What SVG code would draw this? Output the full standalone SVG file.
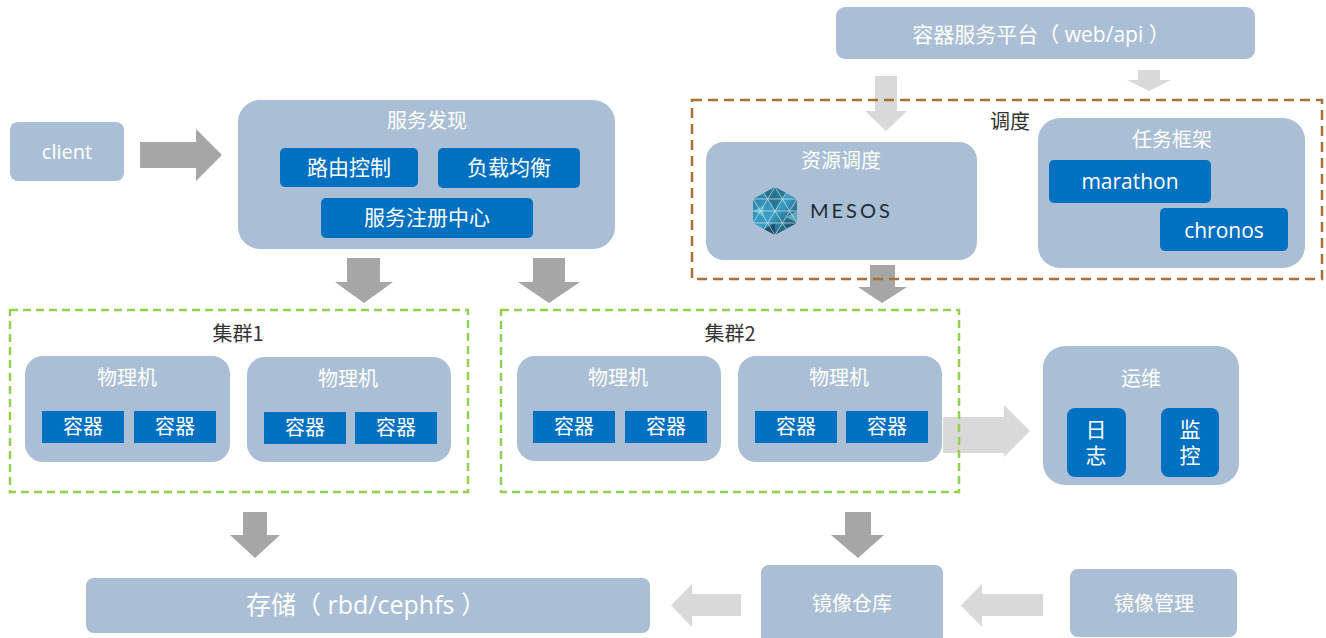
<svg xmlns="http://www.w3.org/2000/svg" width="1326" height="638" viewBox="0 0 1326 638">
<defs>
<style>
.box{fill:#aabfd5}
.blue{fill:#0070c0}
.t{font-family:"Open Sans","Noto Sans CJK SC",sans-serif;fill:#ffffff;text-anchor:middle}
.d{font-family:"Noto Sans CJK SC","Open Sans",sans-serif;fill:#333333;text-anchor:middle}
.dark{fill:#a6a6a6}
.light{fill:#d9d9d9}
.gdash{fill:none;stroke:#92d050;stroke-width:2.5;stroke-dasharray:8 5}
.bdash{fill:none;stroke:#a8712f;stroke-width:2.5;stroke-dasharray:10 6}
</style>
<linearGradient id="hexg" x1="0" y1="0" x2="1" y2="1">
<stop offset="0" stop-color="#2a7f9e"/>
<stop offset="0.5" stop-color="#3aa0c8"/>
<stop offset="1" stop-color="#14384e"/>
</linearGradient>
</defs>

<g id="connectors">
<polygon class="dark" points="140,142 196,142 196,129 222,155 196,181 196,168 140,168"/>
<polygon class="light" points="875,76 897,76 897,111 907,111 886,131 865,111 875,111"/>
<polygon class="light" points="1138,70 1160,70 1160,80 1171,80 1149,91 1127,80 1138,80"/>
<polygon class="dark" points="870,265 895,265 895,287 907,287 882,303 858,287 870,287"/>
<polygon class="dark" points="347,258 380,258 380,282 393,282 364,303 335,282 347,282"/>
<polygon class="dark" points="533,258 565,258 565,282 580,282 549,303 518,282 533,282"/>
<polygon class="light" points="943,417 1004,417 1004,405 1030,431 1004,457 1004,453 943,453"/>
<polygon class="dark" points="243,512 267,512 267,535 280,535 255,558 230,535 243,535"/>
<polygon class="dark" points="845,512 871,512 871,535 884,535 858,558 831,535 845,535"/>
<polygon class="light" points="741,594 741,616 692,616 692,627 671,605.5 692,584 692,594"/>
<polygon class="light" points="1043,594 1043,616 982,616 982,627 961,605.5 982,584 982,594"/>
</g>

<g id="platform">
<rect class="box" x="836" y="7" width="419" height="52" rx="9"/>
<text class="t" x="1041" y="42" font-size="21">容器服务平台（ web/api ）</text>
</g>

<g id="scheduling">
<rect class="bdash" x="692" y="100" width="630" height="179"/>
<text class="d" x="1010" y="129" font-size="20">调度</text>
</g>

<g id="resource">
<rect class="box" x="706" y="142" width="271" height="118" rx="18"/>
<text class="t" x="841" y="168" font-size="20">资源调度</text>
<g id="mesos-logo">
<polygon points="775,187 797,199 797,223 775,235 753,223 753,199" fill="url(#hexg)"/>
<polygon points="775,187 786,193 775,211 764,193" fill="#1f5f78" opacity="0.6"/>
<polygon points="753,211 764,205 764,217" fill="#5fc0d8" opacity="0.7"/>
<polygon points="786,217 797,211 797,223" fill="#7fd0e0" opacity="0.6"/>
<polygon points="764,229 775,223 775,235" fill="#0e2e40" opacity="0.6"/>
<g stroke="#ffffff" stroke-width="0.8" opacity="0.7" fill="none">
<line x1="753" y1="211" x2="797" y2="211"/>
<line x1="753" y1="199" x2="797" y2="199"/>
<line x1="753" y1="223" x2="797" y2="223"/>
<line x1="764" y1="193" x2="786" y2="229"/>
<line x1="775" y1="187" x2="797" y2="223"/>
<line x1="753" y1="199" x2="775" y2="235"/>
<line x1="786" y1="193" x2="764" y2="229"/>
<line x1="775" y1="187" x2="753" y2="223"/>
<line x1="797" y1="199" x2="775" y2="235"/>
</g>
<text x="810" y="218" font-family="Lato,'Open Sans',sans-serif" font-size="20" letter-spacing="3" fill="#1c2b33">MESOS</text>
</g>
</g>

<g id="framework">
<rect class="box" x="1038" y="118" width="267" height="150" rx="22"/>
<text class="t" x="1172" y="147" font-size="20">任务框架</text>
<rect class="blue" x="1049" y="160" width="162" height="43" rx="5"/>
<text class="t" x="1130" y="189" font-size="21">marathon</text>
<rect class="blue" x="1160" y="208" width="128" height="43" rx="5"/>
<text class="t" x="1224" y="238" font-size="21">chronos</text>
</g>

<g id="client">
<rect class="box" x="10" y="122" width="114" height="59" rx="8"/>
<text class="t" x="67" y="159" font-size="20">client</text>
</g>

<g id="discovery">
<rect class="box" x="238" y="100" width="377" height="149" rx="22"/>
<text class="t" x="427" y="128" font-size="20">服务发现</text>
<rect class="blue" x="280" y="148" width="138" height="39" rx="5"/>
<text class="t" x="349" y="175" font-size="21">路由控制</text>
<rect class="blue" x="438" y="148" width="142" height="40" rx="5"/>
<text class="t" x="509" y="175" font-size="21">负载均衡</text>
<rect class="blue" x="321" y="198" width="212" height="40" rx="5"/>
<text class="t" x="427" y="225" font-size="21">服务注册中心</text>
</g>

<g id="cluster1">
<rect class="gdash" x="10" y="310" width="458" height="182"/>
<text class="d" x="238" y="341" font-size="20">集群1</text>
<rect class="box" x="25" y="356" width="205" height="106" rx="18"/>
<text class="t" x="127" y="385" font-size="20">物理机</text>
<rect class="blue" x="42" y="411" width="82" height="32"/>
<text class="t" x="83" y="434" font-size="20">容器</text>
<rect class="blue" x="134" y="411" width="82" height="32"/>
<text class="t" x="175" y="434" font-size="20">容器</text>
<rect class="box" x="247" y="357" width="204" height="105" rx="18"/>
<text class="t" x="348" y="386" font-size="20">物理机</text>
<rect class="blue" x="264" y="412" width="82" height="32"/>
<text class="t" x="305" y="435" font-size="20">容器</text>
<rect class="blue" x="355" y="412" width="82" height="32"/>
<text class="t" x="396" y="435" font-size="20">容器</text>
</g>

<g id="cluster2">
<rect class="gdash" x="501" y="310" width="458" height="182"/>
<text class="d" x="730" y="341" font-size="20">集群2</text>
<rect class="box" x="517" y="356" width="204" height="105" rx="18"/>
<text class="t" x="618" y="385" font-size="20">物理机</text>
<rect class="blue" x="533" y="411" width="82" height="32"/>
<text class="t" x="574" y="434" font-size="20">容器</text>
<rect class="blue" x="625" y="411" width="82" height="32"/>
<text class="t" x="666" y="434" font-size="20">容器</text>
<rect class="box" x="738" y="356" width="204" height="106" rx="18"/>
<text class="t" x="839" y="385" font-size="20">物理机</text>
<rect class="blue" x="755" y="411" width="82" height="32"/>
<text class="t" x="796" y="434" font-size="20">容器</text>
<rect class="blue" x="846" y="411" width="82" height="32"/>
<text class="t" x="887" y="434" font-size="20">容器</text>
</g>

<g id="ops">
<rect class="box" x="1043" y="346" width="196" height="139" rx="22"/>
<text class="t" x="1141" y="386" font-size="20">运维</text>
<rect class="blue" x="1067" y="408" width="59" height="69" rx="8"/>
<text class="t" x="1096" y="437" font-size="21">日</text>
<text class="t" x="1096" y="463" font-size="21">志</text>
<rect class="blue" x="1161" y="408" width="58" height="69" rx="8"/>
<text class="t" x="1190" y="437" font-size="21">监</text>
<text class="t" x="1190" y="463" font-size="21">控</text>
</g>

<g id="storage">
<rect class="box" x="86" y="578" width="564" height="55" rx="8"/>
<text class="t" x="366" y="614" font-size="25">存储（ rbd/cephfs ）</text>
</g>

<g id="registry">
<rect class="box" x="761" y="565" width="182" height="80" rx="8"/>
<text class="t" x="852" y="611" font-size="20">镜像仓库</text>
</g>

<g id="image-mgmt">
<rect class="box" x="1070" y="569" width="167" height="68" rx="8"/>
<text class="t" x="1154" y="611" font-size="20">镜像管理</text>
</g>
</svg>
